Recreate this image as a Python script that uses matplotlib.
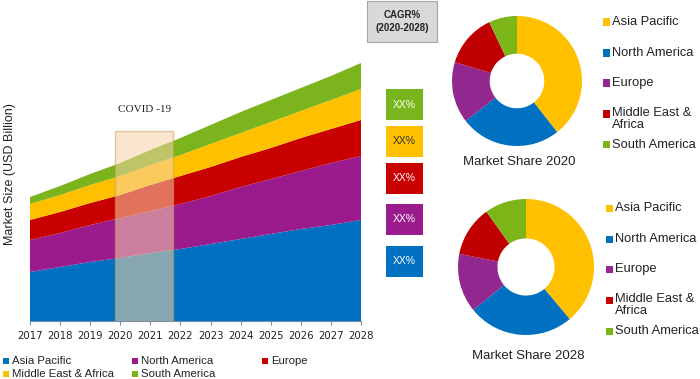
import matplotlib.pyplot as plt
from matplotlib.patches import Rectangle

plt.rcParams['font.family'] = ['Liberation Sans', 'DejaVu Sans']

# stacked area data (arbitrary units)
years = [2017, 2018, 2019, 2020, 2021, 2022, 2023, 2024, 2025, 2026, 2027, 2028]
year_labels = ['2017', '2018', '2019', '2020', '2021', '2022', '2023', '2024', '2025', '2026', '2027', '2028']
asia_pacific = [49, 54, 59, 63, 68, 72, 77, 82, 87, 92, 96, 101]
north_america = [32, 34, 37, 40, 42, 45, 48, 52, 55, 58, 62, 64]
europe = [20, 21, 22, 23, 26, 28, 29, 30, 31, 33, 34, 36]
middle_east_africa = [16, 17, 18, 19, 20, 21, 23, 24, 26, 27, 29, 31]
south_america = [7, 9, 11, 13, 15, 17, 19, 21, 22, 23, 24, 26]

area_names = ['Asia Pacific', 'North America', 'Europe', 'Middle East & Africa', 'South America']
area_colors = ['#0070c0', '#9b1b8e', '#c80000', '#ffc000', '#7bb41c']

# donut data (share %)
share_names = ['Asia Pacific', 'North America', 'Europe', 'Middle East &\nAfrica', 'South America']
share_2020 = [39.4, 25.1, 15.2, 13.3, 7.0]
share_2028 = [38.9, 25.2, 14.0, 12.0, 9.9]
share_colors = ['#ffc000', '#0070c0', '#92278f', '#c00000', '#7cb518']

cagr_labels = ['XX%', 'XX%', 'XX%', 'XX%', 'XX%']
cagr_colors = ['#79b51c', '#ffc000', '#c80000', '#9b1b8e', '#0070c0']
cagr_text = ['white', '#333333', 'white', 'white', 'white']

W, H = 700, 379


def fx(px):
    return px / W


def fy(py):
    return 1 - py / H


fig = plt.figure(figsize=(7, 3.79), dpi=100)

# ---- stacked area chart
ax = fig.add_axes([fx(30), fy(321), 331 / W, 321 / H])
ax.stackplot(years, asia_pacific, north_america, europe, middle_east_africa, south_america,
             colors=area_colors, linewidth=0)
ax.set_xlim(2017, 2028)
ax.set_ylim(0, 321)
ax.set_xticks(years)
ax.set_xticklabels(year_labels, family='DejaVu Sans', fontsize=7.3, color='#222222')
ax.set_yticks([])
for s in ['top', 'right', 'left']:
    ax.spines[s].set_visible(False)
ax.spines['bottom'].set_color('#7d8ea3')
ax.tick_params(axis='x', length=3, color='#7d8ea3', pad=4)
ax.set_ylabel('Market Size (USD Billion)', fontsize=9, color='#222222')
ax.yaxis.set_label_coords(-0.042, 0.458)

ax.add_patch(Rectangle((2019.82, 0), 1.93, 190, facecolor='#f6d3a8', alpha=0.55,
                       edgecolor='#c9a05a', linewidth=1, zorder=3))
ax.text(2020.8, 211, 'COVID -19', ha='center', va='center', fontsize=8,
        family='Liberation Serif', color='#222222')

# bottom legend
legend_pos = [(3, 361), (132, 361), (262, 361), (3, 374), (132, 374)]
for (px, py), name, col in zip(legend_pos, area_names, area_colors):
    fig.patches.append(Rectangle((fx(px), fy(py + 3)), 6 / W, 6 / H, facecolor=col,
                                 transform=fig.transFigure, figure=fig))
    fig.text(fx(px + 9), fy(py), name, fontsize=8.2, va='center', ha='left', color='#222222')

# ---- CAGR column
fig.patches.append(Rectangle((fx(367), fy(42)), 70 / W, 41 / H, facecolor='#d9d9d9',
                             edgecolor='#a6a6a6', linewidth=0.8,
                             transform=fig.transFigure, figure=fig))
fig.text(fx(402), fy(21.5), 'CAGR%\n(2020-2028)', ha='center', va='center', fontsize=7,
         fontweight='bold', color='#222222', linespacing=1.3)

box_tops = [89, 126, 163, 204, 246]
for top, lab, col, tc in zip(box_tops, cagr_labels, cagr_colors, cagr_text):
    fig.patches.append(Rectangle((fx(386), fy(top + 31)), 37 / W, 31 / H, facecolor=col,
                                 transform=fig.transFigure, figure=fig))
    fig.text(fx(404.5), fy(top + 15.5), lab, ha='center', va='center', fontsize=7.5, color=tc)


# ---- donuts
def donut(cx, cy, r, shares, title, title_y, legend_x, legend_ys):
    dax = fig.add_axes([fx(cx - r), fy(cy + r), 2 * r / W, 2 * r / H])
    dax.pie(shares, colors=share_colors, startangle=90, counterclock=False,
            wedgeprops=dict(width=0.58, linewidth=0))
    dax.set_xlim(-1, 1)
    dax.set_ylim(-1, 1)
    dax.axis('off')
    fig.text(fx(cx + 2), fy(title_y), title, ha='center', va='center', fontsize=9.5,
             color='#222222')
    for name, col, ly in zip(share_names, share_colors, legend_ys):
        fig.patches.append(Rectangle((fx(legend_x), fy(ly + 3.5)), 7 / W, 7 / H,
                                     facecolor=col, transform=fig.transFigure, figure=fig))
        if '\n' in name:
            fig.text(fx(legend_x + 9), fy(ly - 7.5), name, ha='left', va='top',
                     fontsize=9.3, color='#222222', linespacing=1.05)
        else:
            fig.text(fx(legend_x + 9), fy(ly), name, ha='left', va='center',
                     fontsize=9.3, color='#222222')


donut(517, 81, 65, share_2020, 'Market Share 2020', 162, 603, [22, 53, 83, 114, 145])
donut(526, 267, 68, share_2028, 'Market Share 2028', 356, 606, [208, 239, 269, 300, 331])

fig.savefig('out.png', dpi=100, facecolor='white')
